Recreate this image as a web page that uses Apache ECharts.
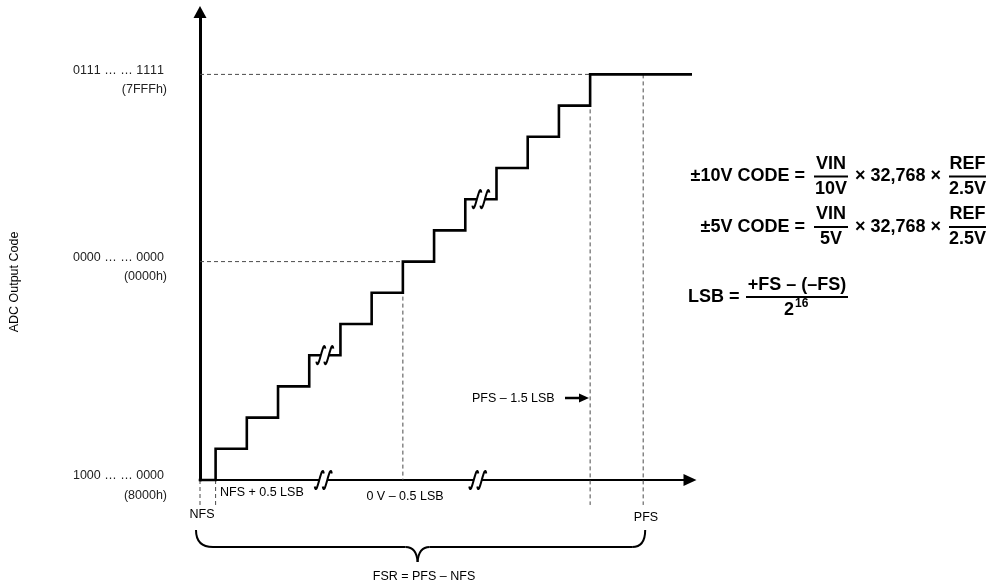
<!DOCTYPE html>
<html><head><meta charset="utf-8">
<script src="https://cdn.jsdelivr.net/npm/echarts@6/dist/echarts.min.js"></script>
<style>html,body{margin:0;padding:0;background:#fff}#chart{width:993px;height:587px}</style>
</head><body><div id="chart"></div>
<script>
// ---- Data (x in LSB-like diagram units from NFS, y in code steps from 8000h) ----
const riserX = [0.5, 1.5, 2.5, 3.5, 4.5, 5.5, 6.5, 7.5, 8.5, 9.5, 10.5, 11.5, 12.5];
const stepCodes = [1, 2, 3, 4, 5, 6, 7, 8, 9, 10, 11, 12, 13];
const NFS = 0;
const PFS = 14.2;
const zeroRiser = 6.5;      // 0 V – 0.5 LSB
const lastRiser = 12.5;     // PFS – 1.5 LSB
const topEndX = 15.9;
const codeTicks = [0, 7, 13];
const codeBinary = ['1000 … … 0000', '0000 … … 0000', '0111 … … 1111'];
const codeHex = ['(8000h)', '(0000h)', '(7FFFh)'];
const stepBreaks = [[4.0, 4], [9.0, 9]];
const axisBreaks = [[3.95, 0], [8.9, 0]];

// ---- Build ----
const DROP = -0.8;
const stair = [[NFS, 0]];
riserX.forEach((x, i) => { stair.push([x, stepCodes[i] - 1]); stair.push([x, stepCodes[i]]); });
stair.push([topEndX, stepCodes[stepCodes.length - 1]]);
const topCode = stepCodes[stepCodes.length - 1];
const guides = [
  [[NFS, topCode], [lastRiser, topCode]],
  [[NFS, 7], [zeroRiser, 7]],
  [[zeroRiser, 7], [zeroRiser, 0]],
  [[lastRiser, topCode], [lastRiser, DROP]],
  [[PFS, topCode], [PFS, DROP]],
  [[NFS, 0], [NFS, DROP]],
  [[riserX[0], 0], [riserX[0], DROP]]
];
const FONT = '"Liberation Sans", Arial, sans-serif';
const dashStyle = { color: '#4a4a4a', width: 1, type: [4, 3] };

function breakGlyph(params, api) {
  const p = api.coord([api.value(0), api.value(1)]);
  const sq = (cx, cy) => ({
    type: 'bezierCurve',
    shape: { x1: cx + 4.5, y1: cy - 6.5, cpx1: cx + 2.5, cpy1: cy - 19, cpx2: cx - 2.5, cpy2: cy + 19, x2: cx - 4.5, y2: cy + 6.5 },
    style: { stroke: '#000', lineWidth: 2, fill: null }
  });
  return { type: 'group', children: [
    { type: 'rect', shape: { x: p[0] - 4, y: p[1] - 3, width: 8, height: 6 }, style: { fill: '#fff' } },
    sq(p[0] - 4, p[1]), sq(p[0] + 4, p[1])
  ]};
}

function brace(params, api) {
  const L = api.coord([NFS, 0]), R = api.coord([PFS, 0]);
  const xL = L[0] - 4, xR = R[0] + 2, y0 = L[1] + 50, yH = L[1] + 67, yT = L[1] + 82;
  const tip = (xL + xR) / 2 - 3;
  const st = { stroke: '#000', lineWidth: 2, fill: null };
  return { type: 'group', children: [
    { type: 'bezierCurve', shape: { x1: xL, y1: y0, cpx1: xL, cpy1: yH, x2: xL + 17, y2: yH }, style: st },
    { type: 'line', shape: { x1: xL + 17, y1: yH, x2: tip - 12, y2: yH }, style: st },
    { type: 'bezierCurve', shape: { x1: tip - 12, y1: yH, cpx1: tip - 1, cpy1: yH, x2: tip, y2: yT }, style: st },
    { type: 'bezierCurve', shape: { x1: tip, y1: yT, cpx1: tip + 1, cpy1: yH, x2: tip + 12, y2: yH }, style: st },
    { type: 'line', shape: { x1: tip + 12, y1: yH, x2: xR - 13, y2: yH }, style: st },
    { type: 'bezierCurve', shape: { x1: xR - 13, y1: yH, cpx1: xR, cpy1: yH, x2: xR, y2: y0 }, style: st }
  ]};
}

const txt = (text, x, y, align, size, bold, extra) => Object.assign({
  type: 'text', x: x, y: y,
  style: { text: text, font: (bold ? 'bold ' : '') + size + 'px ' + FONT, fill: '#000',
           align: align, textAlign: align, verticalAlign: 'middle', textVerticalAlign: 'middle' }
}, extra || {});
const bar = (x1, x2, y) => ({ type: 'line', shape: { x1: x1, y1: y, x2: x2, y2: y }, style: { stroke: '#000', lineWidth: 2 } });

const graphics = [
  // equations
  txt('±10V CODE =', 805, 176, 'right', 18, true),
  txt('VIN', 831, 164, 'center', 18, true), bar(814, 848, 176.5), txt('10V', 831, 189, 'center', 18, true),
  txt('× 32,768 ×', 855, 176, 'left', 18, true),
  txt('REF', 967.5, 164, 'center', 18, true), bar(949, 986, 176.5), txt('2.5V', 967.5, 189, 'center', 18, true),
  txt('±5V CODE =', 805, 227, 'right', 18, true),
  txt('VIN', 831, 214, 'center', 18, true), bar(814, 848, 227), txt('5V', 831, 239, 'center', 18, true),
  txt('× 32,768 ×', 855, 227, 'left', 18, true),
  txt('REF', 967.5, 214, 'center', 18, true), bar(949, 986, 227), txt('2.5V', 967.5, 239, 'center', 18, true),
  txt('LSB =', 688, 297, 'left', 18, true),
  txt('+FS – (–FS)', 797, 285, 'center', 18, true), bar(746, 848, 297),
  txt('2', 794, 310, 'right', 18, true), txt('16', 795, 304, 'left', 12, true),
  // annotations
  txt('ADC Output Code', 15, 282, 'center', 12.5, false, { rotation: Math.PI / 2 }),
  txt('NFS + 0.5 LSB', 220, 493, 'left', 12.5, false),
  txt('NFS', 202, 515, 'center', 12.5, false),
  txt('0 V – 0.5 LSB', 405, 497, 'center', 12.5, false),
  txt('PFS', 646, 518, 'center', 12.5, false),
  txt('FSR = PFS – NFS', 424, 577, 'center', 12.5, false),
  txt('PFS – 1.5 LSB', 472, 399, 'left', 12.5, false),
  { type: 'line', shape: { x1: 565, y1: 398, x2: 581, y2: 398 }, style: { stroke: '#000', lineWidth: 2.5 } },
  { type: 'polygon', shape: { points: [[579, 393.5], [589, 398], [579, 402.5]] }, style: { fill: '#000' } }
];

// per-character rich tokens (avoid "11" kerning so digits stay evenly spaced)
const charTokens = s => s.split('').map((c, i, arr) => '{' + (i === arr.length - 1 ? 'z' : 'a') + '|' + c + '}').join('');

const series = [];
guides.forEach(g => series.push({ type: 'line', data: g, symbol: 'none', clip: false, silent: true, lineStyle: dashStyle, z: 1 }));
series.push({ type: 'line', data: stair, symbol: 'none', clip: false, lineStyle: { color: '#000', width: 2.6, join: 'miter', cap: 'square' }, z: 3 });
series.push({ type: 'custom', data: stepBreaks.concat(axisBreaks), renderItem: breakGlyph, z: 5, clip: false });
series.push({ type: 'custom', data: [[NFS, 0]], renderItem: brace, z: 5, clip: false });

const labStyle = { fontSize: 12.5, fontFamily: FONT, color: '#222', lineHeight: 19.5 };
const chart = echarts.init(document.getElementById('chart'), null, { renderer: 'canvas' });
chart.setOption({
  animation: false,
  backgroundColor: '#fff',
  grid: { left: 200, right: 303, top: 12, bottom: 107 },
  xAxis: {
    type: 'value', min: 0, max: 15.7,
    axisLine: { show: true, symbol: ['none', 'triangle'], symbolSize: [12, 13], lineStyle: { color: '#000', width: 2 } },
    axisTick: { show: false }, axisLabel: { show: false }, splitLine: { show: false }
  },
  yAxis: {
    type: 'value', min: 0, max: 15,
    axisLine: { show: true, symbol: ['none', 'triangle'], symbolSize: [13, 12], lineStyle: { color: '#000', width: 3 } },
    axisTick: { show: false }, splitLine: { show: false },
    axisLabel: {
      show: true, customValues: codeTicks, margin: 33, padding: [11, 0, 0, 0], align: 'right',
      formatter: v => { const i = codeTicks.indexOf(v); return charTokens(codeBinary[i]) + '\n{b|' + codeHex[i] + '}'; },
      rich: {
        a: Object.assign({}, labStyle),
        z: Object.assign({ padding: [0, 3, 0, 0] }, labStyle),
        b: Object.assign({}, labStyle)
      }
    }
  },
  graphic: graphics,
  series: series
});
</script></body></html>
